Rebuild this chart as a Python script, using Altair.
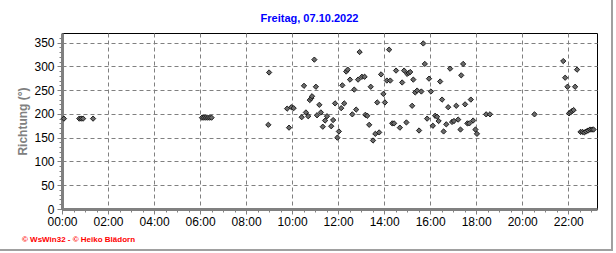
import altair as alt
import pandas as pd

# Observation times (HH:MM) and wind direction values (degrees)
times = [
    "00:05", "00:45", "00:50", "00:55", "01:21",
    "06:05", "06:10", "06:15", "06:20", "06:25", "06:30",
    "08:58", "09:00", "09:47", "09:52", "09:58", "10:04",
    "10:25", "10:31", "10:36", "10:42", "10:46", "10:50", "10:52", "10:58",
    "11:02", "11:05", "11:11", "11:15", "11:20", "11:26", "11:31", "11:42",
    "11:47", "11:52", "11:58", "12:02", "12:08", "12:11", "12:16", "12:21",
    "12:25", "12:31", "12:37", "12:42", "12:47", "12:52", "12:56", "13:02",
    "13:09", "13:11", "13:16", "13:21", "13:25", "13:31", "13:37", "13:42",
    "13:47", "13:52", "13:58", "14:02", "14:07", "14:13", "14:16", "14:21",
    "14:26", "14:31", "14:41", "14:47", "14:52", "14:58", "15:00", "15:04",
    "15:08", "15:13", "15:16", "15:21", "15:26", "15:31", "15:37", "15:42",
    "15:46", "15:52", "15:57", "16:02", "16:07", "16:13", "16:18", "16:22",
    "16:26", "16:31", "16:35", "16:42", "16:47", "16:52", "16:57", "17:02",
    "17:08", "17:13", "17:19", "17:21", "17:26", "17:31", "17:37", "17:42",
    "17:46", "17:52", "17:58", "18:02", "18:26", "18:36", "20:32",
    "21:47", "21:52", "21:58", "22:02", "22:06", "22:10", "22:14", "22:18",
    "22:23", "22:32", "22:37", "22:42", "22:47", "22:52", "22:57", "23:02",
    "23:06",
]
direction = [
    190, 190, 190, 190, 190,
    192, 192, 192, 192, 192, 192,
    177, 287, 211, 171, 214, 212,
    193, 259, 203, 195, 229, 233, 237, 314,
    257, 197, 219, 203, 173, 186, 195, 174,
    187, 222, 150, 163, 212, 260, 222, 289,
    293, 272, 199, 251, 209, 272, 330, 278,
    278, 198, 196, 177, 257, 144, 158, 224,
    161, 283, 242, 224, 270, 335, 270, 180,
    180, 291, 171, 266, 291, 182, 284, 286,
    288, 217, 272, 245, 249, 165, 247, 348,
    305, 190, 274, 247, 175, 196, 194, 185,
    268, 230, 163, 178, 214, 295, 183, 185,
    217, 188, 167, 281, 305, 220, 180, 180,
    230, 186, 167, 158, 199, 199, 199,
    311, 276, 257, 201, 203, 206, 208, 257,
    293, 162, 162, 161, 163, 165, 167, 167,
    167,
]

title_text = "Freitag, 07.10.2022"
y_title = "Richtung (°)"
footer_text = "© WsWin32 - © Heiko Blädorn"

df = pd.DataFrame({
    "t": times,
    "v": direction,
})
df["h"] = df["t"].apply(lambda s: int(s[:2]) + int(s[3:]) / 60.0)

FONT = "Liberation Sans"
GRAY = "#808080"

x_vals = [i * 0.5 for i in range(0, 47)]
y_vals = list(range(0, 370, 10))

x_axis = alt.Axis(
    values=x_vals,
    labelExpr="datum.value % 2 === 0 ? ((datum.value < 10 ? '0' : '') + datum.value + ':00') : ''",
    labelOverlap=False,
    labelFont=FONT, labelFontSize=12, labelColor="black", labelPadding=2,
    labelFlush=False,
    domainColor=GRAY, domainWidth=3,
    tickColor=GRAY, tickWidth=1,
    tickSize={"expr": "datum.value % 2 === 0 ? 5 : 3"},
    grid=True, gridColor=GRAY, gridDash=[4, 3], gridWidth=1,
    gridOpacity={"expr": "(datum.value % 2 === 0 && datum.value > 0) ? 1 : 0"},
    title=None,
)
y_axis = alt.Axis(
    values=y_vals,
    labelExpr="datum.value % 50 === 0 ? datum.value : ''",
    labelOverlap=False,
    labelFont=FONT, labelFontSize=12, labelColor="black", labelPadding=3,
    labelFlush=False,
    domainColor=GRAY, domainWidth=3,
    tickColor=GRAY, tickWidth=1,
    tickSize={"expr": "datum.value % 50 === 0 ? 5 : 3"},
    grid=True, gridColor=GRAY, gridDash=[4, 3], gridWidth=1,
    gridOpacity={"expr": "(datum.value % 50 === 0 && datum.value > 0) ? 1 : 0"},
    title=y_title, titleFont=FONT, titleFontSize=12, titleFontWeight="bold",
    titleColor=GRAY, titlePadding=4,
)

points = alt.Chart(df).mark_point(
    shape="diamond", filled=True, size=28, fill="#6a6a6a",
    stroke="#111111", strokeWidth=0.9, opacity=1,
).encode(
    x=alt.X("h:Q", scale=alt.Scale(domain=[0, 23.25], nice=False, zero=False), axis=x_axis),
    y=alt.Y("v:Q", scale=alt.Scale(domain=[0, 370], nice=False), axis=y_axis),
)

one = pd.DataFrame({"k": [0]})
title_mark = alt.Chart(one).mark_text(
    text=title_text, color="#0000ff", fontSize=11, font=FONT, fontWeight="bold",
    align="center", baseline="alphabetic",
).encode(x=alt.value(247.5), y=alt.value(-11))

footer = alt.Chart(one).mark_text(
    text=footer_text, color="#ff0000", fontSize=8, font=FONT, fontWeight="bold",
    align="left", baseline="middle",
).encode(x=alt.value(-40), y=alt.value(207))

frame_right = alt.Chart(one).mark_rule(color="#a0a0a0", strokeWidth=2).encode(
    x=alt.value(550), y=alt.value(-33), y2=alt.value(217)
)
frame_bottom = alt.Chart(one).mark_rule(color="#a0a0a0", strokeWidth=2).encode(
    x=alt.value(-62), x2=alt.value(551), y=alt.value(217)
)

chart = alt.layer(points, title_mark, footer, frame_right, frame_bottom).properties(
    width=535, height=176,
    padding={"left": 62, "top": 33, "right": 19, "bottom": 44},
    autosize=alt.AutoSizeParams(type="none"),
    background="white",
).configure_view(
    stroke="black", strokeWidth=1,
)

chart.save("out.html", embed_options={"renderer": "svg", "actions": False})
